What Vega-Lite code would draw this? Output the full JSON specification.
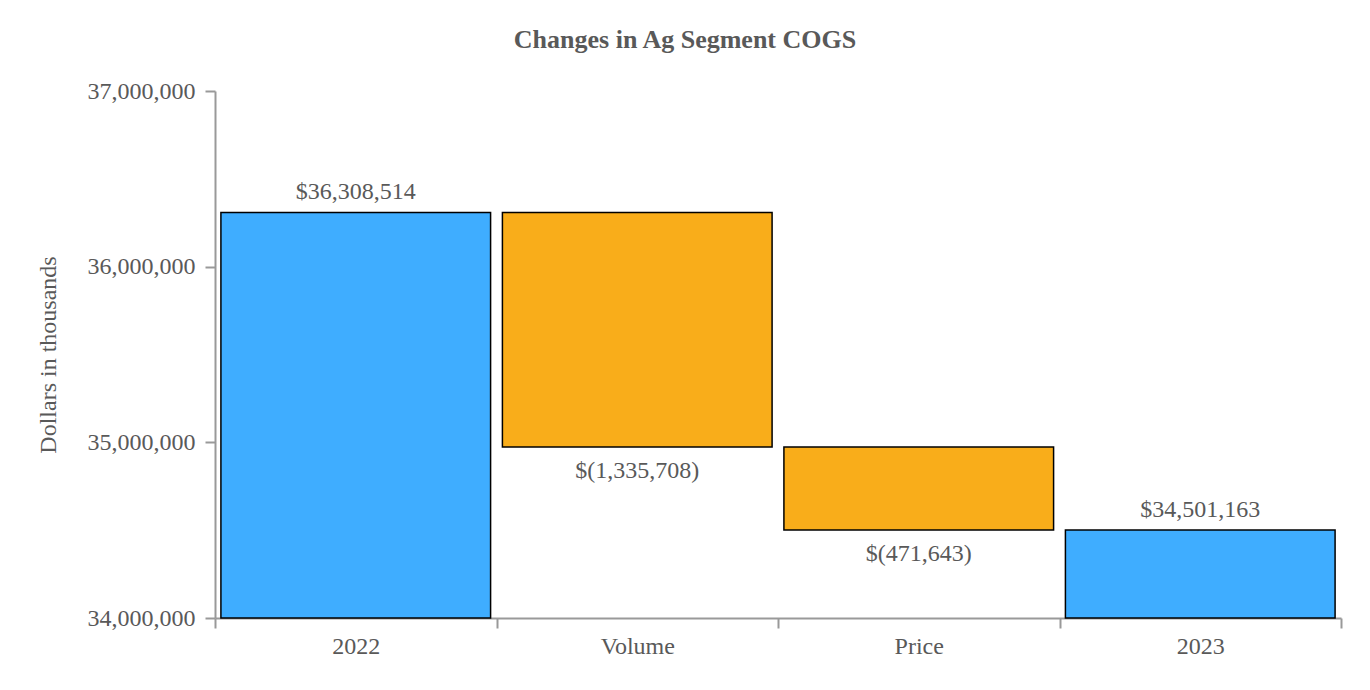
{
  "$schema": "https://vega.github.io/schema/vega-lite/v6.json",
  "autosize": "none",
  "width": 1126,
  "height": 527,
  "padding": {"left": 215, "top": 91, "right": 29, "bottom": 72},
  "background": "white",
  "title": {
    "text": "Changes in Ag Segment COGS",
    "font": "Liberation Serif",
    "fontSize": 26,
    "fontWeight": "bold",
    "color": "#595959",
    "anchor": "middle",
    "frame": "group",
    "dx": -93,
    "offset": 26
  },
  "config": {
    "view": {"stroke": null},
    "axis": {
      "labelFont": "Liberation Serif",
      "titleFont": "Liberation Serif",
      "labelFontSize": 24,
      "titleFontSize": 24,
      "labelColor": "#595959",
      "titleColor": "#595959",
      "titleFontWeight": "normal",
      "domainColor": "#999999",
      "tickColor": "#999999",
      "domainWidth": 2,
      "tickWidth": 2,
      "grid": false
    }
  },
  "data": {
    "values": [
      {"category": "2022", "lo": 34000000, "hi": 36308514, "kind": "total", "label": "$36,308,514"},
      {"category": "Volume", "lo": 34972806, "hi": 36308514, "kind": "change", "label": "$(1,335,708)"},
      {"category": "Price", "lo": 34501163, "hi": 34972806, "kind": "change", "label": "$(471,643)"},
      {"category": "2023", "lo": 34000000, "hi": 34501163, "kind": "total", "label": "$34,501,163"}
    ]
  },
  "encoding": {
    "x": {
      "field": "category",
      "type": "nominal",
      "sort": null,
      "scale": {"paddingInner": 0, "paddingOuter": 0},
      "axis": {
        "title": null,
        "labelAngle": 0,
        "tickBand": "extent",
        "tickSize": 10,
        "labelPadding": 6
      }
    }
  },
  "layer": [
    {
      "mark": {"type": "bar", "stroke": "black", "strokeWidth": 1.5, "width": {"band": 0.958}},
      "encoding": {
        "y": {
          "field": "lo",
          "type": "quantitative",
          "scale": {"domain": [34000000, 37000000], "nice": false, "zero": false},
          "axis": {
            "title": "Dollars in thousands",
            "values": [34000000, 35000000, 36000000, 37000000],
            "format": ",d",
            "tickSize": 10,
            "labelPadding": 10,
            "titlePadding": 27
          }
        },
        "y2": {"field": "hi"},
        "color": {
          "field": "kind",
          "type": "nominal",
          "scale": {"domain": ["total", "change"], "range": ["#3FADFF", "#F9AD1A"]},
          "legend": null
        }
      }
    },
    {
      "transform": [{"filter": "datum.kind === 'total'"}],
      "mark": {"type": "text", "font": "Liberation Serif", "fontSize": 24, "color": "#595959", "baseline": "bottom", "dy": -8},
      "encoding": {
        "y": {"field": "hi", "type": "quantitative"},
        "text": {"field": "label"}
      }
    },
    {
      "transform": [{"filter": "datum.kind === 'change'"}],
      "mark": {"type": "text", "font": "Liberation Serif", "fontSize": 24, "color": "#595959", "baseline": "top", "dy": 12},
      "encoding": {
        "y": {"field": "lo", "type": "quantitative"},
        "text": {"field": "label"}
      }
    }
  ]
}
